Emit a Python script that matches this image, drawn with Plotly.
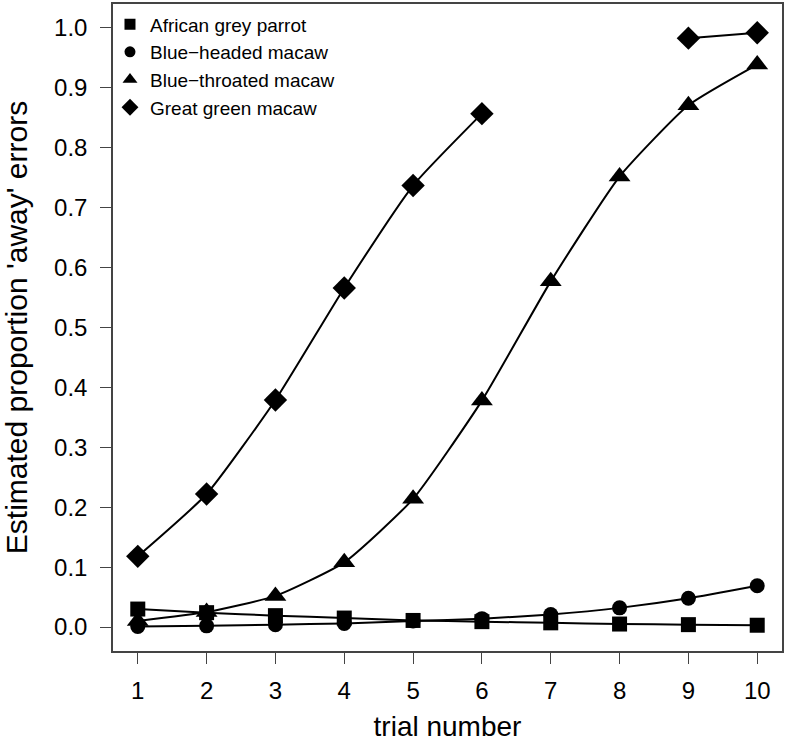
import plotly.graph_objects as go

trials = [1, 2, 3, 4, 5, 6, 7, 8, 9, 10]
african_grey = [0.030, 0.024, 0.019, 0.015, 0.011, 0.009, 0.007, 0.005, 0.004, 0.003]
blue_headed = [0.001, 0.002, 0.004, 0.006, 0.010, 0.014, 0.021, 0.032, 0.048, 0.069]
blue_throated = [0.010, 0.025, 0.052, 0.108, 0.214, 0.378, 0.577, 0.752, 0.871, 0.939]
great_green = [0.118, 0.222, 0.379, 0.566, 0.737, 0.857, None, None, 0.983, 0.992]
y_ticks = [0.0, 0.1, 0.2, 0.3, 0.4, 0.5, 0.6, 0.7, 0.8, 0.9, 1.0]

series = [
    ("African grey parrot", african_grey, "square", 15, 11),
    ("Blue\u2212headed macaw", blue_headed, "circle", 15, 11),
    ("Blue\u2212throated macaw", blue_throated, "triangle-up", 19, 13),
    ("Great green macaw", great_green, "diamond", 18, 13),
]

FONT = "Liberation Sans, Arial, Helvetica, sans-serif"

fig = go.Figure()
for name, vals, sym, sz, lsz in series:
    fig.add_trace(go.Scatter(
        x=trials, y=vals, name=name, mode="lines+markers",
        line=dict(color="black", width=2, shape="spline", smoothing=0.5),
        marker=dict(symbol=sym, size=sz, color="black"),
        connectgaps=False, showlegend=False,
    ))
for name, vals, sym, sz, lsz in series:
    fig.add_trace(go.Scatter(
        x=[None], y=[None], name=name, mode="markers",
        marker=dict(symbol=sym, size=lsz, color="black"),
        showlegend=True,
    ))

fig.update_layout(
    width=786, height=742,
    margin=dict(l=113, r=2, t=2, b=91),
    paper_bgcolor="white", plot_bgcolor="white",
    font=dict(family=FONT, color="black"),
    showlegend=True,
    legend=dict(x=-0.0045, y=0.998, xanchor="left", yanchor="top",
                bgcolor="rgba(0,0,0,0)", borderwidth=0,
                font=dict(size=19, family=FONT), tracegroupgap=0),
)
fig.update_xaxes(
    range=[0.64, 10.36], tickmode="array", tickvals=trials,
    ticktext=[str(t) for t in trials],
    showline=True, mirror=True, linecolor="#444", linewidth=1.5,
    ticks="outside", ticklen=11, tickwidth=1, tickcolor="#444",
    showgrid=False, zeroline=False, ticklabelstandoff=6,
    tickfont=dict(size=24), title=dict(text="trial number", font=dict(size=28), standoff=16),
)
fig.update_yaxes(
    range=[-0.04, 1.04], tickmode="array",
    tickvals=y_ticks,
    ticktext=[f"{v:.1f}" for v in y_ticks],
    showline=True, mirror=True, linecolor="#444", linewidth=1.5,
    ticks="outside", ticklen=11, tickwidth=1, tickcolor="#444",
    showgrid=False, zeroline=False, ticklabelstandoff=8,
    tickfont=dict(size=24), title=dict(text="Estimated proportion 'away' errors", font=dict(size=30), standoff=20),
)

fig.write_html("out.html", post_script="document.body.style.margin='0';",
               config={"displayModeBar": False})
